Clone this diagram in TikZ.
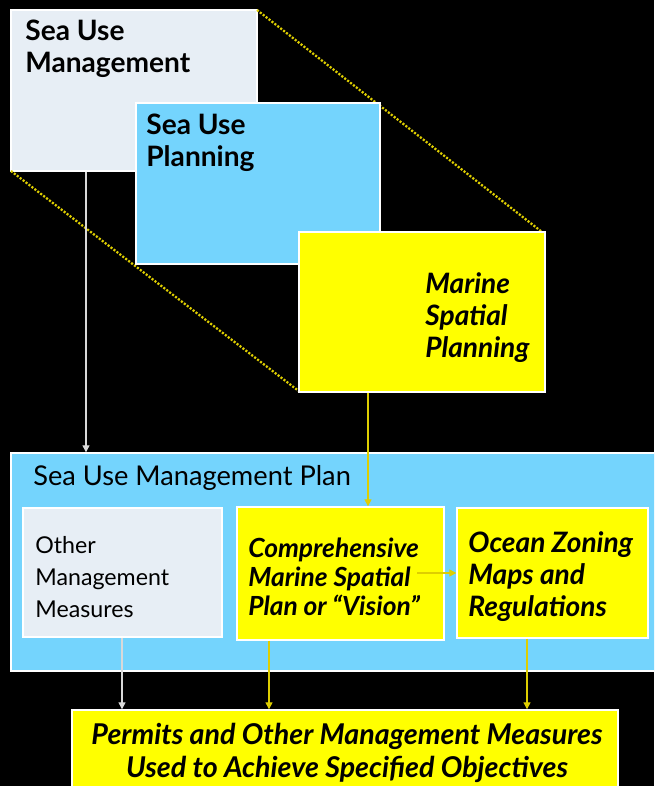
\documentclass[tikz,border=0pt]{standalone}
\usepackage{fontspec}
\setmainfont{Lato}
\usetikzlibrary{fit,arrows.meta}
\definecolor{paleslate}{RGB}{231,238,245}
\definecolor{skyfill}{RGB}{116,212,253}
\definecolor{signyellow}{RGB}{255,255,0}
\definecolor{linkyellow}{RGB}{222,206,0}

\begin{document}
\begin{tikzpicture}[x=0.02cm, y=-0.02cm,
    panel/.style={draw=white, line width=0.8pt, inner sep=0pt},
    guide/.style={linkyellow, line width=1.3pt, dash pattern=on 1.2pt off 0.9pt},
    palelink/.style={draw=white!85!black, line width=0.7pt, -{Triangle[length=4pt,width=4pt]}},
    yellowlink/.style={draw=linkyellow, line width=0.7pt, -{Triangle[length=4pt,width=4pt]}},
    boldlabel/.style={anchor=west, align=left, inner sep=0pt, font=\fontsize{16}{18.2}\selectfont\bfseries},
    italiclabel/.style={anchor=west, align=left, inner sep=0pt, font=\fontsize{15}{16.5}\selectfont\bfseries\itshape},
    plainlabel/.style={anchor=west, align=left, inner sep=0pt, font=\fontsize{13.2}{18.2}\selectfont}]
    \useasboundingbox (0,0) rectangle (654,786);
    \clip (0,0) rectangle (654,786);
    \fill[black] (0,0) rectangle (654,786);
    % upper stack
    \node[panel, fill=paleslate, fit={(11,10) (257,171)}] (sum) {};
    \draw[guide] (257,10) -- (542,232);
    \draw[guide] (11,171) -- (300,392);
    \node[panel, fill=skyfill, fit={(136,103) (380,264)}] (sup) {};
    \node[panel, fill=signyellow, fit={(299,232) (545,392)}] (msp) {};
    \node[boldlabel] (sumtext) at (25,49) {Sea Use\\Management};
    \node[boldlabel] (suptext) at (146,143) {Sea Use\\Planning};
    \node[italiclabel, font=\fontsize{16}{18.2}\selectfont\bfseries\itshape] (msptext) at (425,318) {Marine\\Spatial\\Planning};
    % plan
    \node[panel, fill=skyfill, fit={(11,453) (664,671)}] (plan) {};
    \node[plainlabel, font=\fontsize{15.5}{18}\selectfont] (plantext) at (33,478) {Sea Use Management Plan};
    \node[panel, fill=paleslate, fit={(23,508) (222,637)}] (other) {};
    \node[panel, fill=signyellow, fit={(237,507) (444,640)}] (comp) {};
    \node[panel, fill=signyellow, fit={(457,508) (648,638)}] (ocean) {};
    \node[plainlabel] (othertext) at (35,577) {Other\\Management\\Measures};
    \node[italiclabel] (comptext) at (248,577) {Comprehensive\\Marine Spatial\\Plan or “Vision”};
    \node[italiclabel, font=\fontsize{16}{18.2}\selectfont\bfseries\itshape] (oceantext) at (468,577) {Ocean Zoning\\Maps and\\Regulations};
    % permits
    \node[panel, fill=signyellow, fit={(72,710) (618,800)}] (permits) {};
    \node[italiclabel, anchor=center, align=center, font=\fontsize{16.3}{18.4}\selectfont\bfseries\itshape] (permitstext) at (347,753) {Permits and Other Management Measures\\Used to Achieve Specified Objectives};
    % connectors
    \coordinate (dropa) at (86,0);
    \coordinate (dropb) at (368,0);
    \coordinate (dropc) at (122,0);
    \coordinate (dropd) at (269,0);
    \coordinate (drope) at (527,0);
    \coordinate (sidea) at (417,573);
    \draw[palelink] (sum.south -| dropa) -- (plan.north -| dropa);
    \draw[yellowlink] (msp.south -| dropb) -- (comp.north -| dropb);
    \draw[yellowlink] (sidea) -- (ocean.west |- sidea);
    \draw[palelink] (other.south -| dropc) -- (permits.north -| dropc);
    \draw[yellowlink] (comp.south -| dropd) -- (permits.north -| dropd);
    \draw[yellowlink] (ocean.south -| drope) -- (permits.north -| drope);
\end{tikzpicture}
\end{document}
